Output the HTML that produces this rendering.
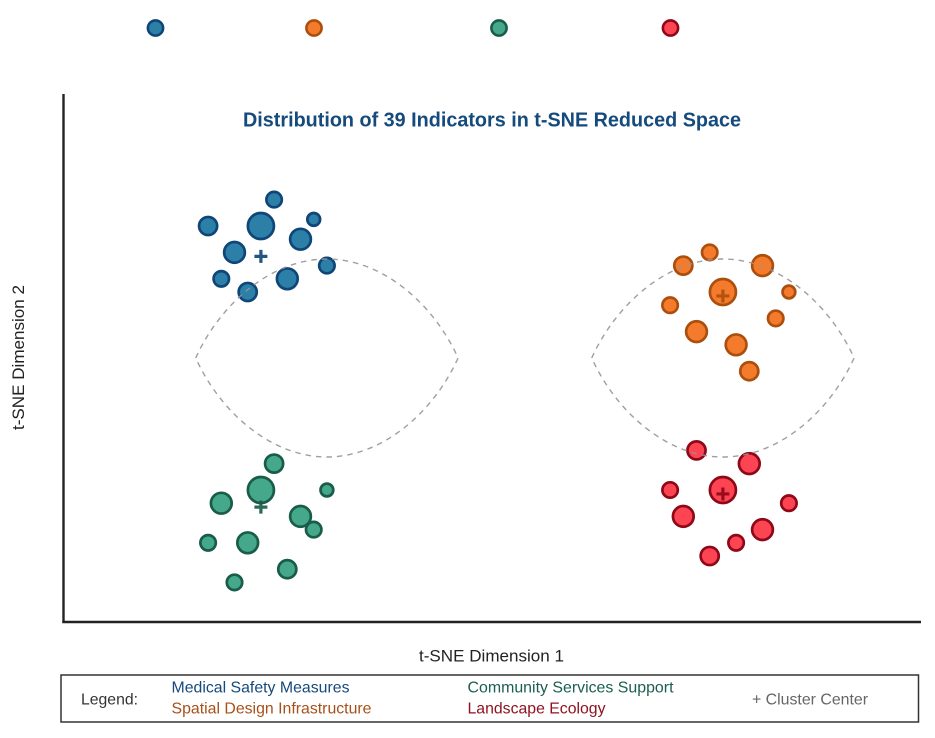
<!DOCTYPE html>
<html lang="en">
<head>
<meta charset="utf-8">
<title>Distribution of 39 Indicators in t-SNE Reduced Space</title>
<style>
html,body{margin:0;padding:0;background:#fff;width:935px;height:738px;overflow:hidden}
svg{display:block;filter:blur(0.35px)}
text{font-family:"Liberation Sans",Arial,sans-serif}
</style>
</head>
<body>
<svg id="chart" width="935" height="738" viewBox="0 0 935 738" xmlns="http://www.w3.org/2000/svg">
  <g id="top-legend"></g>
  <g id="points"></g>
  <g id="lenses"></g>
  <g id="centers"></g>
  <line x1="63.5" y1="94" x2="63.5" y2="623" stroke="#222" stroke-width="2.4"/>
  <line x1="62.3" y1="622" x2="921" y2="622" stroke="#222" stroke-width="2.4"/>
  <text x="492" y="126.5" text-anchor="middle" font-size="20" font-weight="bold" fill="#154a7c" textLength="498" lengthAdjust="spacingAndGlyphs">Distribution of 39 Indicators in t-SNE Reduced Space</text>
  <text x="491.5" y="661.5" text-anchor="middle" font-size="17" fill="#222" textLength="145" lengthAdjust="spacingAndGlyphs">t-SNE Dimension 1</text>
  <text transform="translate(24,357.5) rotate(-90)" text-anchor="middle" font-size="17" fill="#222" textLength="145" lengthAdjust="spacingAndGlyphs">t-SNE Dimension 2</text>
  <g>
    <rect x="61" y="675" width="857.5" height="47" fill="#fff" stroke="#333" stroke-width="1.5"/>
    <text x="81" y="704.5" font-size="16" fill="#333" textLength="57" lengthAdjust="spacingAndGlyphs">Legend:</text>
    <text x="171.5" y="692.5" font-size="16" fill="#154a7c" textLength="178" lengthAdjust="spacingAndGlyphs">Medical Safety Measures</text>
    <text x="171.5" y="713.5" font-size="16" fill="#a8501a" textLength="200" lengthAdjust="spacingAndGlyphs">Spatial Design Infrastructure</text>
    <text x="467.5" y="692.5" font-size="16" fill="#1a5f4f" textLength="206" lengthAdjust="spacingAndGlyphs">Community Services Support</text>
    <text x="467.5" y="713.5" font-size="16" fill="#8f1220" textLength="138" lengthAdjust="spacingAndGlyphs">Landscape Ecology</text>
    <text x="752" y="704.5" font-size="16" fill="#666" textLength="116" lengthAdjust="spacingAndGlyphs">+ Cluster Center</text>
  </g>
</svg>
<script>
// Data values (t-SNE coordinates and indicator weights)
const medicalX = [16, 11, 15, 19, 18, 13, 12, 14, 17, 20];
const medicalY = [32, 30, 30, 30.5, 29, 28, 26, 25, 26, 27];
const medicalSize = [2, 3, 6, 1, 4, 4, 2, 3, 4, 2];

const spatialX = [49, 47, 53, 50, 55, 46, 54, 48, 51, 52];
const spatialY = [28, 27, 27, 25, 25, 24, 23, 22, 21, 19];
const spatialSize = [2, 3, 4, 6, 1, 2, 2, 4, 4, 3];

const communityX = [16, 15, 20, 12, 18, 19, 11, 14, 17, 13];
const communityY = [12, 10, 10, 9, 8, 7, 6, 6, 4, 3];
const communitySize = [3, 6, 1, 4, 4, 2, 2, 4, 3, 2];

const landscapeX = [48, 52, 50, 46, 55, 47, 53, 51, 49];
const landscapeY = [13, 12, 10, 10, 9, 8, 7, 6, 5];
const landscapeSize = [3, 4, 6, 2, 2, 4, 4, 2, 3];

const centerX = [15, 50, 15, 50];
const centerY = [27.7, 24.7, 8.7, 9.7];
const boundaryCenterX = [20, 50];
const boundaryCenterY = [20, 20];
const boundaryHalfWidth = 10;
const boundaryHalfHeight = 7.5;

// Axis functions
function xScale(v) { return 62.9 + v * 13.2; }
function yScale(v) { return 622 - v * 13.2; }
function rScale(s) { return 5.05 + 1.33 * s; }

const NS = 'http://www.w3.org/2000/svg';
const styles = [
  { key: 'medical', fill: '#2c80a8', stroke: '#0f4677', xs: medicalX, ys: medicalY, ss: medicalSize, legendX: 155.5 },
  { key: 'spatial', fill: '#f47b2c', stroke: '#ac4f0e', xs: spatialX, ys: spatialY, ss: spatialSize, legendX: 314 },
  { key: 'community', fill: '#45a88a', stroke: '#185c49', xs: communityX, ys: communityY, ss: communitySize, legendX: 499 },
  { key: 'landscape', fill: '#fc4452', stroke: '#8f0818', xs: landscapeX, ys: landscapeY, ss: landscapeSize, legendX: 670.5 }
];

function make(tag, attrs) {
  const el = document.createElementNS(NS, tag);
  for (const k in attrs) el.setAttribute(k, attrs[k]);
  return el;
}

// Top legend markers
const topLegend = document.getElementById('top-legend');
styles.forEach(function (st) {
  const c = make('circle', { cx: st.legendX, cy: 28, r: 7.6, fill: st.fill, stroke: st.stroke, 'stroke-width': 2.6 });
  
  
  topLegend.appendChild(c);
});

// Indicator points
const points = document.getElementById('points');
styles.forEach(function (st) {
  st.xs.forEach(function (x, i) {
    const c = make('circle', {
      cx: xScale(x), cy: yScale(st.ys[i]), r: rScale(st.ss[i]),
      fill: st.fill, stroke: st.stroke, 'stroke-width': 2.7
    });
    
    
    points.appendChild(c);
  });
});

// Dashed lens boundaries, drawn over the points
const lenses = document.getElementById('lenses');
boundaryCenterX.forEach(function (cx, i) {
  const x0 = xScale(cx - boundaryHalfWidth) + 0.8;
  const x1 = xScale(cx + boundaryHalfWidth) - 0.8;
  const xc = xScale(cx);
  const yc = yScale(boundaryCenterY[i]);
  const yt = yScale(boundaryCenterY[i] + boundaryHalfHeight);
  const yb = yScale(boundaryCenterY[i] - boundaryHalfHeight);
  const w = (x1 - x0) / 2;
  const h = yc - yt;
  const d = 'M' + x0 + ' ' + yc +
    ' C' + (x0 + w * 0.19) + ' ' + (yc - h * 0.555) + ' ' + (xc - w * 0.42) + ' ' + yt + ' ' + xc + ' ' + yt +
    ' C' + (xc + w * 0.42) + ' ' + yt + ' ' + (x1 - w * 0.19) + ' ' + (yc - h * 0.555) + ' ' + x1 + ' ' + yc +
    ' C' + (x1 - w * 0.19) + ' ' + (yc + h * 0.555) + ' ' + (xc + w * 0.42) + ' ' + yb + ' ' + xc + ' ' + yb +
    ' C' + (xc - w * 0.42) + ' ' + yb + ' ' + (x0 + w * 0.19) + ' ' + (yc + h * 0.555) + ' ' + x0 + ' ' + yc + ' Z';
  const p = make('path', { d: d, fill: 'none', stroke: '#959595', 'stroke-width': 1.4, 'stroke-linejoin': 'round', 'stroke-dasharray': '5.5 5', 'stroke-opacity': 0.9 });
  
  
  lenses.appendChild(p);
});

// Cluster center crosses
const centers = document.getElementById('centers');
styles.forEach(function (st, i) {
  const cx = xScale(centerX[i]);
  const cy = yScale(centerY[i]);
  const d = 'M' + (cx - 6.5) + ' ' + cy + 'H' + (cx + 6.5) + 'M' + cx + ' ' + (cy - 6.5) + 'V' + (cy + 6.5);
  const p = make('path', { d: d, fill: 'none', stroke: st.stroke, 'stroke-width': 3.2, 'stroke-opacity': 0.92 });
  
  
  centers.appendChild(p);
});
</script>
</body>
</html>
